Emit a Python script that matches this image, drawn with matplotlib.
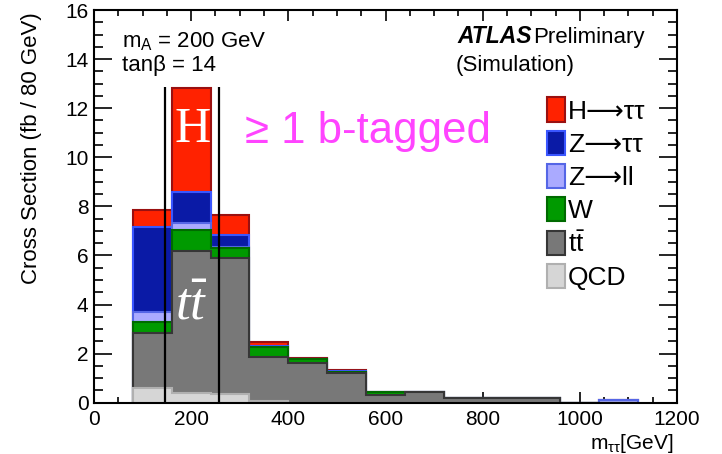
import matplotlib
matplotlib.use("Agg")
import matplotlib.pyplot as plt
import numpy as np
from matplotlib.ticker import MultipleLocator
from matplotlib.patches import Rectangle

plt.rcParams["font.family"] = ["Liberation Sans", "DejaVu Sans"]
plt.rcParams["mathtext.fontset"] = "custom"
plt.rcParams["mathtext.rm"] = "Liberation Sans"
plt.rcParams["mathtext.it"] = "Liberation Serif:italic"
plt.rcParams["mathtext.bf"] = "Liberation Sans:bold"

# m_tautau binning (80 GeV bins)
bin_edges = np.arange(80, 1121, 80)

# Expected cross section per bin (fb / 80 GeV), per process
qcd = [0.59, 0.38, 0.36, 0.07, 0, 0, 0, 0, 0, 0, 0, 0, 0]
ttbar = [2.25, 5.82, 5.55, 1.81, 1.61, 1.20, 0.32, 0.43, 0.18, 0.18, 0.20, 0, 0]
w_jets = [0.43, 0.84, 0.40, 0.37, 0.16, 0.04, 0.11, 0.01, 0, 0.03, 0, 0, 0]
z_ll = [0.43, 0.30, 0.02, 0.03, 0.01, 0.01, 0.01, 0, 0, 0, 0, 0, 0.12]
z_tautau = [3.46, 1.25, 0.50, 0.04, 0.02, 0.06, 0.01, 0, 0, 0, 0, 0, 0]
h_tautau = [0.68, 4.23, 0.81, 0.16, 0.04, 0.01, 0, 0, 0, 0, 0, 0, 0]

# mass window
window_edges = [146, 257]
window_top = 12.85

labels = ["H\u27f6\u03c4\u03c4", "Z\u27f6\u03c4\u03c4", "Z\u27f6ll", "W",
          r"$\mathrm{t\bar{t}}$", "QCD"]
face_colors = ["#ff2200", "#0a1aa6", "#aaaaff", "#009a00", "#787878", "#d6d6d6"]
edge_colors = ["#9a1010", "#3a56ff", "#5566e6", "#006a00", "#363636", "#b0b0b0"]

# stack from bottom to top
stack_order = [qcd, ttbar, w_jets, z_ll, z_tautau, h_tautau]
cumulative = np.cumsum(np.array(stack_order, dtype=float), axis=0)

W_PX, H_PX = 722, 454
AX_L, AX_R, AX_T, AX_B = 94, 677, 10, 402.7

fig = plt.figure(figsize=(W_PX / 100, H_PX / 100), dpi=100)
ax = fig.add_axes([AX_L / W_PX, 1 - AX_B / H_PX, (AX_R - AX_L) / W_PX,
                   (AX_B - AX_T) / H_PX])


def ax_frac(xp, yp):
    return (xp - AX_L) / (AX_R - AX_L), (AX_B - yp) / (AX_B - AX_T)


# draw the cumulative layers from the top one down
for level in range(len(stack_order) - 1, -1, -1):
    li = len(stack_order) - 1 - level
    ax.stairs(cumulative[level], bin_edges, baseline=0, fill=True,
              facecolor=face_colors[li], edgecolor=edge_colors[li],
              linewidth=1.5, zorder=2)

ax.vlines(window_edges, 0, window_top, colors="black", linewidth=1.6, zorder=4)

ax.set_xlim(0, 1200)
ax.set_ylim(0, 16)
ax.xaxis.set_major_locator(MultipleLocator(200))
ax.xaxis.set_minor_locator(MultipleLocator(50))
ax.yaxis.set_major_locator(MultipleLocator(2))
ax.yaxis.set_minor_locator(MultipleLocator(0.5))
ax.tick_params(which="both", direction="in", top=True, right=True, width=1.2,
               color="black")
ax.tick_params(axis="x", which="major", length=8, pad=5, labelsize=15)
ax.tick_params(axis="x", which="minor", length=4)
ax.tick_params(axis="y", which="major", length=13, pad=4, labelsize=15)
ax.tick_params(axis="y", which="minor", length=6.5)
for sp in ax.spines.values():
    sp.set_linewidth(1.5)
    sp.set_zorder(5)

ax.set_ylabel("Cross Section (fb / 80 GeV)", fontsize=16, loc="top")
ax.yaxis.set_label_coords(ax_frac(42, 0)[0], 0.995)
x, y = ax_frac(673, 449)
ax.text(x, y, r"m$_{\mathrm{\tau\tau}}$[GeV]", transform=ax.transAxes,
        ha="right", va="baseline", fontsize=15, clip_on=False)

# model / label texts
x, y = ax_frac(122, 47)
ax.text(x, y, r"m$_{\mathrm{A}}$ = 200 GeV", transform=ax.transAxes,
        fontsize=16, va="baseline")
x, y = ax_frac(122, 71.5)
ax.text(x, y, "tan\u03b2 = 14", transform=ax.transAxes, fontsize=16,
        va="baseline")
x, y = ax_frac(457, 43)
ax.text(x, y, "ATLAS", transform=ax.transAxes, fontsize=16.5, va="baseline",
        fontweight="bold", fontstyle="italic")
x, y = ax_frac(533, 43)
ax.text(x, y, "Preliminary", transform=ax.transAxes, fontsize=16,
        va="baseline")
x, y = ax_frac(456, 71.5)
ax.text(x, y, "(Simulation)", transform=ax.transAxes, fontsize=16,
        va="baseline")

x, y = ax_frac(245, 143)
ax.text(x, y, "\u2265 1 b-tagged", transform=ax.transAxes, fontsize=31.5,
        va="baseline", color="#ff44ff")

ax.text(203, 10.62, "H", ha="center", va="baseline", fontsize=36,
        color="white", family="Liberation Serif", zorder=6)
ax.text(201, 3.38, r"$t\bar{t}$", ha="center", va="baseline", fontsize=38,
        color="white", zorder=6)

# legend
legend_centers = [109.5, 142.5, 175.5, 209, 242.5, 275.5]
for lab, fc, ec, cy in zip(labels, face_colors, edge_colors, legend_centers):
    x0, y0 = ax_frac(547, cy + 12)
    x1, y1 = ax_frac(565, cy - 12)
    ax.add_patch(Rectangle((x0, y0), x1 - x0, y1 - y0, transform=ax.transAxes,
                           facecolor=fc, edgecolor=ec, linewidth=1.5,
                           zorder=6, clip_on=False))
    tx, ty = ax_frac(568, cy + 9.5)
    ax.text(tx, ty, lab, transform=ax.transAxes, fontsize=19, va="baseline",
            zorder=6)

fig.savefig("out.png", dpi=100)
